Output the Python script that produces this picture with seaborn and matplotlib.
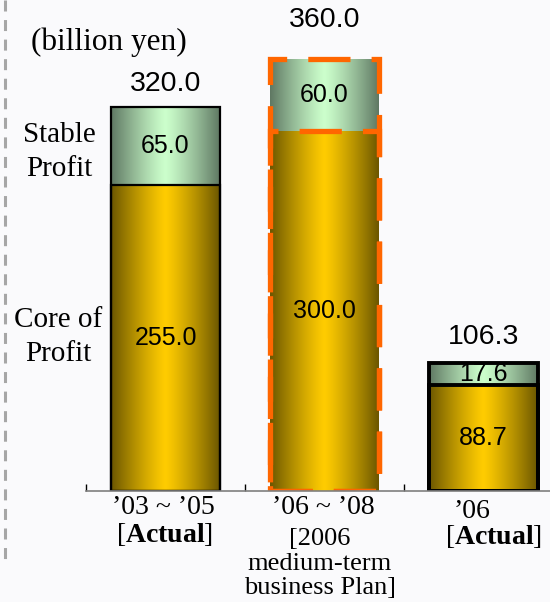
import numpy as np
import pandas as pd
import matplotlib
matplotlib.use("Agg")
import matplotlib.pyplot as plt
import seaborn as sns
from matplotlib.lines import Line2D
from matplotlib.transforms import blended_transform_factory, offset_copy

# ---------------- data ----------------
categories = ["’03 ~ ’05", "’06 ~ ’08", "’06"]
core_profit = [255.0, 300.0, 88.7]
stable_profit = [65.0, 60.0, 17.6]
totals = [320.0, 360.0, 106.3]
sub_labels = [["[$\\mathbf{Actual}$]"],
              ["[2006", "medium-term", "business Plan]"],
              ["[$\\mathbf{Actual}$]"]]
unit_label = "(billion yen)"
series_names = ["Stable\nProfit", "Core of\nProfit"]

# ---------------- style ----------------
sns.set_style("white")
plt.rcParams["font.family"] = ["Liberation Sans", "DejaVu Sans"]
plt.rcParams["text.color"] = "black"
plt.rcParams["mathtext.fontset"] = "custom"
plt.rcParams["mathtext.rm"] = "Liberation Serif"
plt.rcParams["mathtext.bf"] = "Liberation Serif:bold"
plt.rcParams["mathtext.it"] = "Liberation Serif:italic"

BG = "#fafafc"
SERIF = ["Liberation Serif", "DejaVu Serif"]
W, H = 550, 602

fig = plt.figure(figsize=(W / 100, H / 100), dpi=100, facecolor=BG)
ax = fig.add_axes([86 / W, 111 / H, 464 / W, 480 / H], facecolor=BG)

df = pd.DataFrame({"cat": categories, "core": core_profit,
                   "stable": stable_profit, "total": totals})

sns.barplot(data=df, x="cat", y="total", order=categories, width=0.68,
            errorbar=None, color="white", ax=ax)
sns.barplot(data=df, x="cat", y="core", order=categories, width=0.68,
            errorbar=None, color="white", ax=ax)

total_patches = ax.patches[:3]
core_patches = ax.patches[3:6]


def gradient(edge, center, n=256, power=1.2):
    edge = np.array(matplotlib.colors.to_rgb(edge))
    center = np.array(matplotlib.colors.to_rgb(center))
    t = np.abs(np.linspace(0, 1, n) - 0.5) * 2
    t = t ** power
    img = center[None, :] * (1 - t[:, None]) + edge[None, :] * t[:, None]
    return img[None, :, :]


gold = gradient("#6b5600", "#ffcc00")
green = gradient("#5f7863", "#ccffcc")

edge_styles = [dict(ec="black", lw=1.6, ls="-"),
               dict(ec="#ff6600", lw=3.8, ls=(0, (8, 4))),
               dict(ec="black", lw=2.8, ls="-")]

for i, (tp, cp) in enumerate(zip(total_patches, core_patches)):
    x0 = tp.get_x()
    x1 = x0 + tp.get_width()
    ax.imshow(green, extent=[x0, x1, cp.get_height(), tp.get_height()],
              aspect="auto", zorder=2, interpolation="bilinear")
    ax.imshow(gold, extent=[x0, x1, 0, cp.get_height()],
              aspect="auto", zorder=2, interpolation="bilinear")
    for p in (tp, cp):
        p.set_facecolor("none")
        p.set_edgecolor(edge_styles[i]["ec"])
        p.set_linewidth(edge_styles[i]["lw"])
        p.set_linestyle(edge_styles[i]["ls"])
        p.set_zorder(3)

ax.set_xlim(-0.5, 2.418)
ax.set_ylim(0, 400)

# segment labels
for i in range(3):
    ax.text(i, core_profit[i] / 2, f"{core_profit[i]:.1f}", ha="center",
            va="center", fontsize=18, zorder=5)
    ax.text(i, core_profit[i] + stable_profit[i] / 2, f"{stable_profit[i]:.1f}",
            ha="center", va="center", fontsize=18, zorder=5)

# totals
total_offsets = [10, 26, 13]
for i in range(3):
    ax.annotate(f"{totals[i]:.1f}", (i, totals[i]), xytext=(0, total_offsets[i]),
                textcoords="offset pixels", ha="center", va="bottom",
                fontsize=20.5, zorder=5)

# axes styling
for s in ["left", "right", "top"]:
    ax.spines[s].set_visible(False)
ax.spines["bottom"].set_color("#7f7f7f")
ax.spines["bottom"].set_linewidth(1.2)
ax.spines["bottom"].set_zorder(4)
ax.set_yticks([])
ax.set_xticks([-0.5, 0.5, 1.5])
ax.set_xticklabels([])
ax.tick_params(axis="x", direction="in", length=5, width=1, color="black",
               bottom=True)
ax.set_xlabel("")
ax.set_ylabel("")


def fig_text(px, py, s, **kw):
    fig.text(px / W, 1 - py / H, s, **kw)


# category labels
trans = blended_transform_factory(ax.transData, fig.transFigure)
cat_dx = [-2, -1, -12]
cat_y = [507, 507, 512]
for i, c in enumerate(categories):
    t = offset_copy(trans, fig=fig, x=cat_dx[i], y=0, units="dots")
    ax.text(i, 1 - cat_y[i] / H, c, transform=t, ha="center", va="center",
            fontsize=20, family=SERIF, clip_on=False)

sub_dx = [-1, -5, 10]
sub_y = [[534], [539, 564, 588], [537]]
for i, lines in enumerate(sub_labels):
    t = offset_copy(trans, fig=fig, x=sub_dx[i], y=0, units="dots")
    for line, yc in zip(lines, sub_y[i]):
        ax.text(i, 1 - yc / H, line, transform=t, ha="center", va="center",
                fontsize=19 if i == 1 else 20, family=SERIF, clip_on=False)

# unit and series labels
fig_text(31, 42, unit_label, ha="left", va="center", fontsize=22.5, family=SERIF)
fig_text(59, 152, series_names[0], ha="center", va="center", fontsize=21,
         family=SERIF, linespacing=1.4)
fig_text(58, 337, series_names[1], ha="center", va="center", fontsize=21,
         family=SERIF, linespacing=1.4)

# left dashed divider
fig.add_artist(Line2D([5 / W, 5 / W], [1.0, 1 - 560 / H], transform=fig.transFigure,
                      color="#a6a6a6", lw=2.2, ls=(0, (3.6, 2.8))))

fig.savefig("out.png", dpi=100, facecolor=BG)
